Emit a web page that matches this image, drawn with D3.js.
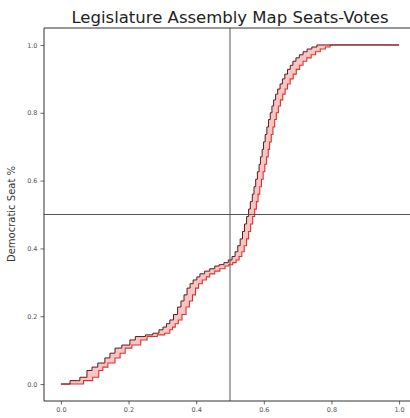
<!DOCTYPE html>
<html><head><meta charset="utf-8">
<script src="https://cdn.jsdelivr.net/npm/d3@7"></script>
<style>body{margin:0;background:#fff;}svg{display:block;}</style>
</head><body>
<svg id="c" width="410" height="418"></svg>
<script>
// Seat share levels (Democratic seat %)
const seatShare = [0.000,0.010,0.020,0.040,0.050,0.062,0.077,0.091,0.106,0.115,0.130,0.140,0.145,0.150,0.160,0.168,0.178,0.189,0.205,0.227,0.245,0.263,0.283,0.296,0.307,0.316,0.325,0.333,0.340,0.348,0.352,0.358,0.366,0.376,0.390,0.408,0.428,0.450,0.472,0.494,0.516,0.538,0.560,0.582,0.604,0.626,0.648,0.670,0.692,0.714,0.736,0.758,0.780,0.800,0.820,0.838,0.855,0.870,0.885,0.900,0.914,0.928,0.940,0.952,0.962,0.971,0.980,0.988,0.994,1.000,1.000];
// Vote share where the upper (left) curve reaches each level
const voteLow = [0.000,0.027,0.056,0.077,0.092,0.109,0.130,0.145,0.160,0.180,0.204,0.220,0.250,0.272,0.290,0.302,0.312,0.322,0.333,0.345,0.355,0.364,0.373,0.382,0.391,0.402,0.411,0.425,0.440,0.455,0.468,0.482,0.495,0.506,0.515,0.523,0.530,0.537,0.543,0.549,0.555,0.560,0.566,0.571,0.576,0.581,0.586,0.590,0.595,0.599,0.604,0.609,0.614,0.619,0.624,0.629,0.635,0.641,0.648,0.655,0.662,0.670,0.678,0.686,0.695,0.705,0.716,0.728,0.742,0.757,1.000];
// Vote share where the lower (right) curve reaches each level
const voteHigh = [0.000,0.067,0.094,0.112,0.124,0.139,0.160,0.175,0.190,0.210,0.236,0.255,0.285,0.307,0.322,0.330,0.338,0.347,0.358,0.370,0.380,0.389,0.398,0.407,0.418,0.430,0.440,0.455,0.470,0.485,0.496,0.508,0.518,0.527,0.535,0.542,0.549,0.555,0.561,0.567,0.573,0.578,0.583,0.588,0.593,0.598,0.603,0.608,0.613,0.617,0.622,0.627,0.632,0.637,0.643,0.649,0.656,0.663,0.670,0.678,0.687,0.696,0.706,0.716,0.727,0.740,0.753,0.767,0.782,0.796,1.000];
const xTicks = [0.0,0.2,0.4,0.6,0.8,1.0];
const yTicks = [0.0,0.2,0.4,0.6,0.8,1.0];
const refVote = 0.5, refSeat = 0.5;
const titleText = "Legislature Assembly Map Seats-Votes";
const yLabel = "Democratic Seat %";

const svg = d3.select("#c");
const x = d3.scaleLinear().domain([-0.05,1.05]).range([44,416]);
const y = d3.scaleLinear().domain([-0.05,1.05]).range([401,28]);

const pts = seatShare.map((s,i)=>({s, lo:voteLow[i], hi:voteHigh[i]}));

// band fill
svg.append("path").datum(pts)
  .attr("d", d3.area().y(d=>y(d.s)).x0(d=>x(d.lo)).x1(d=>x(d.hi)).curve(d3.curveStepAfter))
  .attr("fill","rgba(235,90,90,0.35)").attr("stroke","none");

const line = (key)=>d3.line().x(d=>x(d[key])).y(d=>y(d.s)).curve(d3.curveStepAfter);
svg.append("path").datum(pts).attr("d", line("hi")).attr("fill","none")
  .attr("stroke","#e0302a").attr("stroke-width",1.1);
svg.append("path").datum(pts).attr("d", line("lo")).attr("fill","none")
  .attr("stroke","#5a1a1a").attr("stroke-width",1);

// reference lines
svg.append("line").attr("x1",x(refVote)).attr("x2",x(refVote)).attr("y1",28).attr("y2",401)
  .attr("stroke","#555").attr("stroke-width",1);
svg.append("line").attr("x1",44).attr("x2",416).attr("y1",y(refSeat)).attr("y2",y(refSeat))
  .attr("stroke","#555").attr("stroke-width",1);

// axes
const xa = svg.append("g").attr("transform","translate(0,401)")
  .call(d3.axisBottom(x).tickValues(xTicks).tickFormat(d3.format(".1f")).tickSize(3.5).tickPadding(3));
const ya = svg.append("g").attr("transform","translate(44,0)")
  .call(d3.axisLeft(y).tickValues(yTicks).tickFormat(d3.format(".1f")).tickSize(3.5).tickPadding(3));
[xa,ya].forEach(g=>{
  g.select(".domain").remove();
  g.selectAll("line").attr("stroke","#444").attr("stroke-width",0.8);
  g.selectAll("text").attr("font-family","DejaVu Sans").attr("font-size",6.5).attr("fill","#555");
});
// spines
svg.append("line").attr("x1",44).attr("x2",44).attr("y1",28).attr("y2",401).attr("stroke","#333").attr("stroke-width",1);
svg.append("line").attr("x1",44).attr("x2",416).attr("y1",401).attr("y2",401).attr("stroke","#333").attr("stroke-width",1);
svg.append("line").attr("x1",44).attr("x2",416).attr("y1",28).attr("y2",28).attr("stroke","#333").attr("stroke-width",1);

svg.append("text").attr("x",230).attr("y",23).attr("text-anchor","middle")
  .attr("font-family","DejaVu Sans").attr("font-size",16.5).attr("fill","#222").text(titleText);
svg.append("text").attr("transform","translate(15,214) rotate(-90)").attr("text-anchor","middle")
  .attr("font-family","DejaVu Sans").attr("font-size",10).attr("fill","#333").text(yLabel);
</script>
</body></html>
